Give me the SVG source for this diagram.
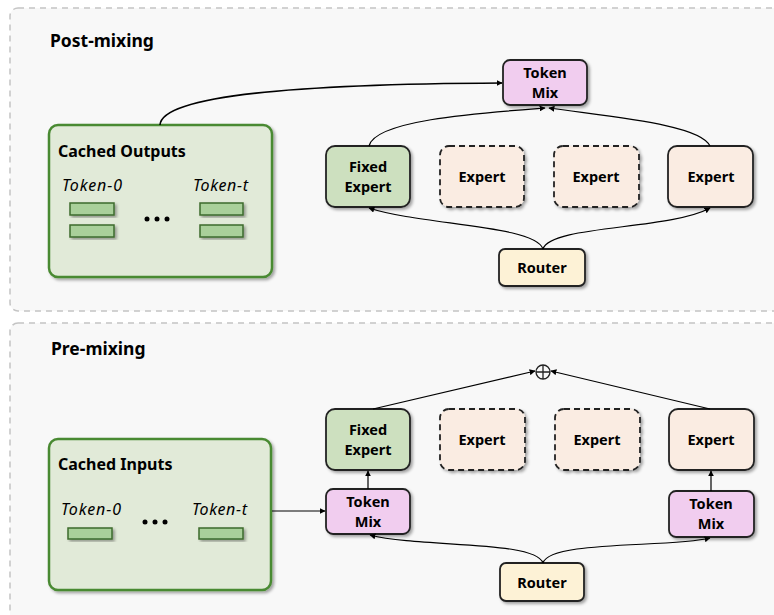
<svg xmlns="http://www.w3.org/2000/svg" width="774" height="615" viewBox="0 0 774 615">
<defs>
<marker id="ah" viewBox="0 0 10 10" refX="9" refY="5" markerWidth="6" markerHeight="6" orient="auto" markerUnits="userSpaceOnUse"><path d="M0,0 L10,5 L0,10 z" fill="#000"/></marker>
<filter id="sh" x="-10%" y="-10%" width="130%" height="130%"><feDropShadow dx="2" dy="2" stdDeviation="1.5" flood-color="#000" flood-opacity="0.35"/></filter>
<style>
.panel{fill:#f8f8f8;stroke:#c4c4c4;stroke-width:1.5;stroke-dasharray:6 5}
.title{font-family:"Noto Sans","Open Sans",sans-serif;font-weight:bold;font-size:17.5px;fill:#000}
.cache{fill:#e1ead8;stroke:#4a8a33;stroke-width:2.5;filter:url(#sh)}
.ctitle{font-family:"Noto Sans","Open Sans",sans-serif;font-weight:bold;font-size:16px;fill:#000}
.tok{font-family:"Noto Sans","Open Sans",sans-serif;font-style:italic;font-size:16px;fill:#000}
.bar{fill:#a9d09a;stroke:#3d6b2c;stroke-width:1.5;filter:url(#sh)}
.node{stroke:#222;stroke-width:1.8;filter:url(#sh)}
.fixed{fill:#cde0bf}
.exp{fill:#faece2}
.dash{stroke-dasharray:6 4}
.mix{fill:#f1cdef}
.router{fill:#fdf2d6}
.lbl{font-family:"Noto Sans","Open Sans",sans-serif;font-weight:bold;font-size:14.5px;fill:#000;text-anchor:middle}
.conn{fill:none;stroke:#000;stroke-width:1.2}
</style>
</defs>
<rect class="panel" x="10" y="8" width="790" height="303" rx="8"/>
<rect class="panel" x="10" y="323" width="790" height="320" rx="8"/>
<text class="title" x="50" y="47">Post-mixing</text>
<text class="title" x="51" y="355">Pre-mixing</text>

<g id="cached-outputs">
<rect class="cache" x="49" y="125" width="223" height="152" rx="9"/>
<text class="ctitle" x="58" y="157">Cached Outputs</text>
<text class="tok" x="62" y="191" textLength="60">Token-0</text>
<text class="tok" x="193" y="191" textLength="55">Token-t</text>
<rect class="bar" x="70" y="203" width="44" height="12"/>
<rect class="bar" x="70" y="225" width="44" height="12"/>
<rect class="bar" x="200" y="203" width="43" height="12"/>
<rect class="bar" x="200" y="225" width="43" height="12"/>
<circle cx="147" cy="219" r="2.5"/><circle cx="157" cy="219" r="2.5"/><circle cx="167" cy="219" r="2.5"/>
</g>

<g id="top-token-mix"><rect class="node mix" x="503" y="60" width="84" height="45" rx="7"/><text class="lbl" x="545" y="78">Token</text><text class="lbl" x="545" y="98">Mix</text></g>
<g id="top-fixed-expert"><rect class="node fixed" x="326" y="146" width="84" height="61" rx="9"/><text class="lbl" x="368" y="172">Fixed</text><text class="lbl" x="368" y="192">Expert</text></g>
<g id="top-expert-1"><rect class="node exp dash" x="440" y="146" width="84" height="61" rx="9"/><text class="lbl" x="482" y="182">Expert</text></g>
<g id="top-expert-2"><rect class="node exp dash" x="554" y="146" width="85" height="61" rx="9"/><text class="lbl" x="596" y="182">Expert</text></g>
<g id="top-expert-3"><rect class="node exp" x="668" y="146" width="85" height="61" rx="9"/><text class="lbl" x="711" y="182">Expert</text></g>
<g id="top-router"><rect class="node router" x="499" y="249" width="86" height="37" rx="6"/><text class="lbl" x="542" y="273">Router</text></g>

<g id="cached-inputs">
<rect class="cache" x="49" y="439" width="222" height="151" rx="9"/>
<text class="ctitle" x="58" y="470">Cached Inputs</text>
<text class="tok" x="61" y="515" textLength="60">Token-0</text>
<text class="tok" x="192" y="515" textLength="55">Token-t</text>
<rect class="bar" x="68" y="528" width="44" height="11"/>
<rect class="bar" x="199" y="528" width="44" height="11"/>
<circle cx="145" cy="522" r="2.5"/><circle cx="155" cy="522" r="2.5"/><circle cx="165" cy="522" r="2.5"/>
</g>

<g id="bot-fixed-expert"><rect class="node fixed" x="326" y="409" width="84" height="61" rx="9"/><text class="lbl" x="368" y="435">Fixed</text><text class="lbl" x="368" y="455">Expert</text></g>
<g id="bot-expert-1"><rect class="node exp dash" x="440" y="409" width="85" height="61" rx="9"/><text class="lbl" x="482" y="445">Expert</text></g>
<g id="bot-expert-2"><rect class="node exp dash" x="555" y="409" width="85" height="61" rx="9"/><text class="lbl" x="597" y="445">Expert</text></g>
<g id="bot-expert-3"><rect class="node exp" x="669" y="409" width="85" height="61" rx="9"/><text class="lbl" x="711" y="445">Expert</text></g>
<g id="bot-token-mix-1"><rect class="node mix" x="326" y="489" width="84" height="45" rx="7"/><text class="lbl" x="368" y="507">Token</text><text class="lbl" x="368" y="527">Mix</text></g>
<g id="bot-token-mix-2"><rect class="node mix" x="669" y="491" width="85" height="46" rx="7"/><text class="lbl" x="711" y="509">Token</text><text class="lbl" x="711" y="529">Mix</text></g>
<g id="bot-router"><rect class="node router" x="500" y="563" width="84" height="38" rx="6"/><text class="lbl" x="542" y="588">Router</text></g>
<g id="oplus"><circle cx="543" cy="372" r="7" fill="none" stroke="#222" stroke-width="1.3"/><path d="M536,372 H550 M543,365 V379" stroke="#222" stroke-width="1.3"/></g>

<g id="connectors">
<path class="conn" style="stroke-width:1.6" marker-end="url(#ah)" d="M160,125 C162,95 300,84 502,83"/>
<path class="conn" marker-end="url(#ah)" d="M369,146 C375,120 480,113 545,108"/>
<path class="conn" marker-end="url(#ah)" d="M710,146 C700,125 620,118 549,108"/>
<path class="conn" marker-end="url(#ah)" d="M543,249 C535,225 420,225 369,208"/>
<path class="conn" marker-end="url(#ah)" d="M543,249 C550,225 670,230 710,208"/>
<path class="conn" marker-end="url(#ah)" d="M272,511 L325,511"/>
<path class="conn" marker-end="url(#ah)" d="M368,489 L368,471"/>
<path class="conn" marker-end="url(#ah)" d="M711,491 L711,471"/>
<path class="conn" marker-end="url(#ah)" d="M373,409 L535,371"/>
<path class="conn" marker-end="url(#ah)" d="M710,409 L551,371"/>
<path class="conn" marker-end="url(#ah)" d="M543,563 C535,540 420,548 370,535"/>
<path class="conn" marker-end="url(#ah)" d="M543,563 C550,540 670,548 710,538"/>
</g>
</svg>
